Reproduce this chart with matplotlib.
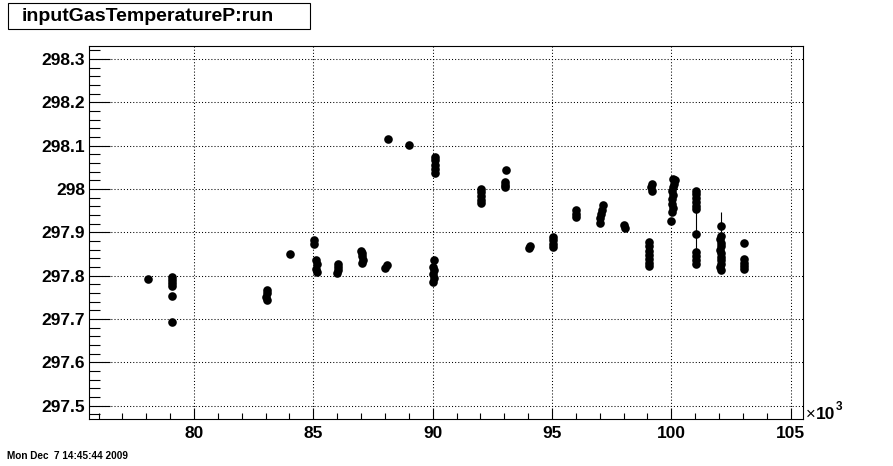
"""Scatter of inputGasTemperatureP versus run number (ROOT-style canvas)."""
import matplotlib

matplotlib.use("Agg")
import matplotlib.pyplot as plt
from matplotlib.patches import Rectangle
from matplotlib.ticker import FuncFormatter, MultipleLocator

plt.rcParams["font.family"] = ["Liberation Sans", "DejaVu Sans"]

TITLE = "inputGasTemperatureP:run"
DATE_STAMP = "Mon Dec  7 14:45:44 2009"

# run number, gas temperature (grouped by run)
RUNS = [
    78090,
    79060, 79070, 79060, 79070, 79080, 79070,
    83050, 83040, 83030, 83040,
    84030,
    85030, 85030, 85130, 85140, 85130, 85140,
    86020, 86030, 86020, 86010,
    86980, 87020, 87060, 87070, 87060,
    88000, 88080, 88140,
    89020,
    90100, 90110, 90100, 90110, 90100,
    90050, 90030, 90050, 90020, 90040, 90030,
    92020, 92030, 92020, 92020, 92030,
    93070, 93020, 93050, 93040,
    94080, 94050,
    95050, 95050, 95060, 95050,
    96000, 96010, 96000,
    97150, 97100, 97050, 97020, 97020,
    98030, 98040,
    99170, 99160, 99170,
    99060, 99070, 99060, 99060, 99070, 99060, 99060,
    100060, 100150, 100100, 100060, 100030, 100060, 100020, 100040, 100060,
    100030, 99990,
    101020, 101020, 101030, 101020, 101030, 101020,
    101050,
    101030, 101020, 101030, 101020,
    102080, 102070, 102040, 102100, 102080, 102040, 102070, 102100, 102060,
    102080, 102050, 102070,
    103040, 103030, 103040, 103030, 103040,
]
TEMPS = [
    297.792,
    297.797, 297.790, 297.783, 297.776, 297.753, 297.693,
    297.768, 297.760, 297.750, 297.745,
    297.849,
    297.882, 297.872, 297.836, 297.826, 297.816, 297.808,
    297.828, 297.820, 297.812, 297.806,
    297.858, 297.852, 297.845, 297.836, 297.830,
    297.818, 297.824, 298.115,
    298.101,
    298.074, 298.066, 298.056, 298.046, 298.038,
    297.836, 297.820, 297.812, 297.803, 297.795, 297.786,
    298.000, 297.992, 297.984, 297.975, 297.968,
    298.045, 298.017, 298.010, 298.005,
    297.869, 297.863,
    297.890, 297.882, 297.874, 297.867,
    297.951, 297.943, 297.935,
    297.962, 297.952, 297.942, 297.932, 297.922,
    297.917, 297.910,
    298.012, 298.004, 297.996,
    297.878, 297.868, 297.858, 297.848, 297.838, 297.829, 297.822,
    298.024, 298.020, 298.012, 298.004, 297.995, 297.986, 297.976, 297.966,
    297.956, 297.947, 297.927,
    297.996, 297.988, 297.979, 297.970, 297.961, 297.953,
    297.896,
    297.855, 297.846, 297.837, 297.828,
    297.915, 297.892, 297.884, 297.876, 297.868, 297.860, 297.852, 297.844,
    297.836, 297.828, 297.820, 297.812,
    297.876, 297.838, 297.830, 297.822, 297.815,
]

# thin vertical strokes seen through runs 101 and 102
LINE_RUNS = [101050, 102070]
LINE_LO = [297.84, 297.83]
LINE_HI = [297.975, 297.948]

X_LIM = (75614, 105528)
Y_LIM = (297.4686, 298.3307)


def main():
    fig = plt.figure(figsize=(8.93, 4.66), dpi=100)
    fig.patch.set_facecolor("white")
    ax = fig.add_axes([89.3 / 893, 1 - 419.3 / 466, (803.3 - 89.3) / 893, (419.3 - 45.7) / 466])

    ax.plot(RUNS, TEMPS, linestyle="none", marker="o", markersize=6.2,
            markeredgewidth=0, color="black", zorder=3)
    ax.vlines(LINE_RUNS, LINE_LO, LINE_HI, color="black", linewidth=0.8, zorder=3)

    ax.set_xlim(*X_LIM)
    ax.set_ylim(*Y_LIM)

    ax.xaxis.set_major_locator(MultipleLocator(5000))
    ax.xaxis.set_minor_locator(MultipleLocator(1000))
    ax.yaxis.set_major_locator(MultipleLocator(0.1))
    ax.yaxis.set_minor_locator(MultipleLocator(0.02))
    ax.xaxis.set_major_formatter(FuncFormatter(lambda v, _: f"{v / 1000:g}"))
    ax.yaxis.set_major_formatter(FuncFormatter(lambda v, _: f"{round(v, 1):g}"))

    ax.tick_params(axis="both", which="both", direction="in", top=False, right=False,
                   width=0.8, color="black")
    ax.tick_params(axis="x", which="major", length=8, pad=5)
    ax.tick_params(axis="x", which="minor", length=4.3)
    ax.tick_params(axis="y", which="major", length=15, pad=3)
    ax.tick_params(axis="y", which="minor", length=7.9)
    for lab in ax.get_xticklabels() + ax.get_yticklabels():
        lab.set_fontsize(12.5)
        lab.set_fontweight("bold")

    ax.grid(True, which="major", color="black", linewidth=0.75, linestyle=(0, (1, 2)))
    ax.set_axisbelow(True)
    for sp in ax.spines.values():
        sp.set_linewidth(0.8)
        sp.set_color("black")

    # x10^3 exponent next to the x axis end
    ax.text(1.004, 0.0, "\u00d7", transform=ax.transAxes, fontsize=12,
            ha="left", va="baseline")
    ax.text(1.017, 0.0, "10", transform=ax.transAxes, fontsize=12.5,
            fontweight="bold", ha="left", va="baseline")
    ax.text(1.045, 0.026, "3", transform=ax.transAxes, fontsize=8.5,
            fontweight="bold", ha="left", va="baseline")

    # title box in the top-left corner
    fig.patches.append(Rectangle((8 / 893, 1 - 29 / 466), 302 / 893, 26 / 466,
                                 transform=fig.transFigure, facecolor="white",
                                 edgecolor="black", linewidth=0.8))
    fig.text(22 / 893, 1 - 16.5 / 466, TITLE, fontsize=14, fontweight="bold",
             ha="left", va="center")

    fig.text(7 / 893, 1 - 459 / 466, DATE_STAMP, fontsize=7.2, fontweight="bold",
             ha="left", va="baseline")

    fig.savefig("out.png", dpi=100)
    plt.close(fig)


if __name__ == "__main__":
    main()
